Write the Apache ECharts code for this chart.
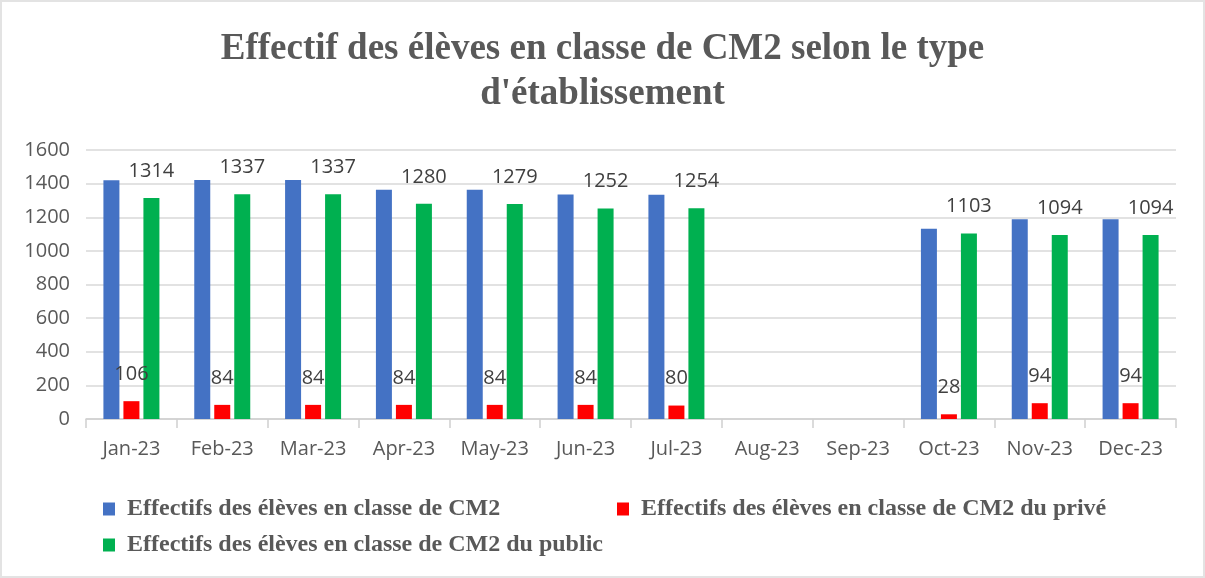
<!DOCTYPE html>
<html>
<head>
<meta charset="utf-8">
<script src="https://cdn.jsdelivr.net/npm/echarts@6/dist/echarts.min.js"></script>
<style>
  html, body { margin: 0; padding: 0; background: #fff; }
  #chart1 { width: 1205px; height: 578px; box-sizing: border-box; border: 2px solid #e3e3e3; }
</style>
</head>
<body>
<div id="chart1"></div>
<script>
var months = ['Jan-23', 'Feb-23', 'Mar-23', 'Apr-23', 'May-23', 'Jun-23', 'Jul-23', 'Aug-23', 'Sep-23', 'Oct-23', 'Nov-23', 'Dec-23'];
// total (no labels on the chart)
var totalCM2 = [1420, 1421, 1421, 1364, 1363, 1336, 1334, '-', '-', 1131, 1188, 1188];
var priveCM2 = [106, 84, 84, 84, 84, 84, 80, '-', '-', 28, 94, 94];
var publicCM2 = [1314, 1337, 1337, 1280, 1279, 1252, 1254, '-', '-', 1103, 1094, 1094];
var yTicks = [0, 200, 400, 600, 800, 1000, 1200, 1400, 1600];

var names = [
    'Effectifs des élèves en classe de CM2',
    'Effectifs des élèves en classe de CM2 du privé',
    'Effectifs des élèves en classe de CM2 du public'
];

var myChart = echarts.init(document.getElementById('chart1'));

var legendText = {
    fontFamily: 'Liberation Serif',
    fontWeight: 'bold',
    fontSize: 24,
    color: '#595959',
    padding: [0, 0, 0, 7]
};

var valueLabel = {
    show: true,
    position: 'top',
    distance: 17,
    fontFamily: 'Open Sans',
    fontSize: 20,
    color: '#404040'
};

myChart.setOption({
    color: ['#4472C4', '#FF0000', '#00B050'],
    title: {
        text: "Effectif des élèves en classe de CM2 selon le type\nd'établissement",
        left: 'center',
        top: 20,
        textStyle: {
            fontFamily: 'Liberation Serif',
            fontWeight: 'bold',
            fontSize: 37,
            lineHeight: 45,
            color: '#595959'
        }
    },
    legend: [
        {
            data: [names[0]],
            left: 101, top: 495, padding: 0,
            itemWidth: 12, itemHeight: 13,
            icon: 'rect',
            textStyle: legendText
        },
        {
            data: [names[1]],
            left: 615, top: 495, padding: 0,
            itemWidth: 12, itemHeight: 13,
            icon: 'rect',
            textStyle: legendText
        },
        {
            data: [names[2]],
            left: 101, top: 531, padding: 0,
            itemWidth: 12, itemHeight: 13,
            icon: 'rect',
            textStyle: legendText
        }
    ],
    grid: {
        left: 84,
        right: 27,
        top: 148,
        bottom: 157
    },
    xAxis: {
        type: 'category',
        data: months,
        axisLine: { lineStyle: { color: '#d0d0d0', width: 1.5 } },
        axisTick: { show: true, interval: 0, length: 9, lineStyle: { color: '#d0d0d0', width: 1.5 } },
        axisLabel: {
            interval: 0,
            margin: 20,
            fontFamily: 'Open Sans',
            fontSize: 20,
            color: '#595959'
        }
    },
    yAxis: {
        type: 'value',
        min: yTicks[0],
        max: yTicks[yTicks.length - 1],
        interval: 200,
        axisLine: { show: false },
        axisTick: { show: false },
        axisLabel: {
            margin: 16,
            fontFamily: 'Open Sans',
            fontSize: 20,
            color: '#595959',
            formatter: function (v) { return String(v); }
        },
        splitLine: { lineStyle: { color: '#d9d9d9', width: 1.5 } }
    },
    series: [
        {
            name: names[0],
            type: 'bar',
            data: totalCM2,
            barWidth: 16,
            barGap: '25%'
        },
        {
            name: names[1],
            type: 'bar',
            data: priveCM2,
            barWidth: 16,
            barGap: '25%',
            label: valueLabel
        },
        {
            name: names[2],
            type: 'bar',
            data: publicCM2,
            barWidth: 16,
            barGap: '25%',
            label: valueLabel
        }
    ]
});
</script>
</body>
</html>
